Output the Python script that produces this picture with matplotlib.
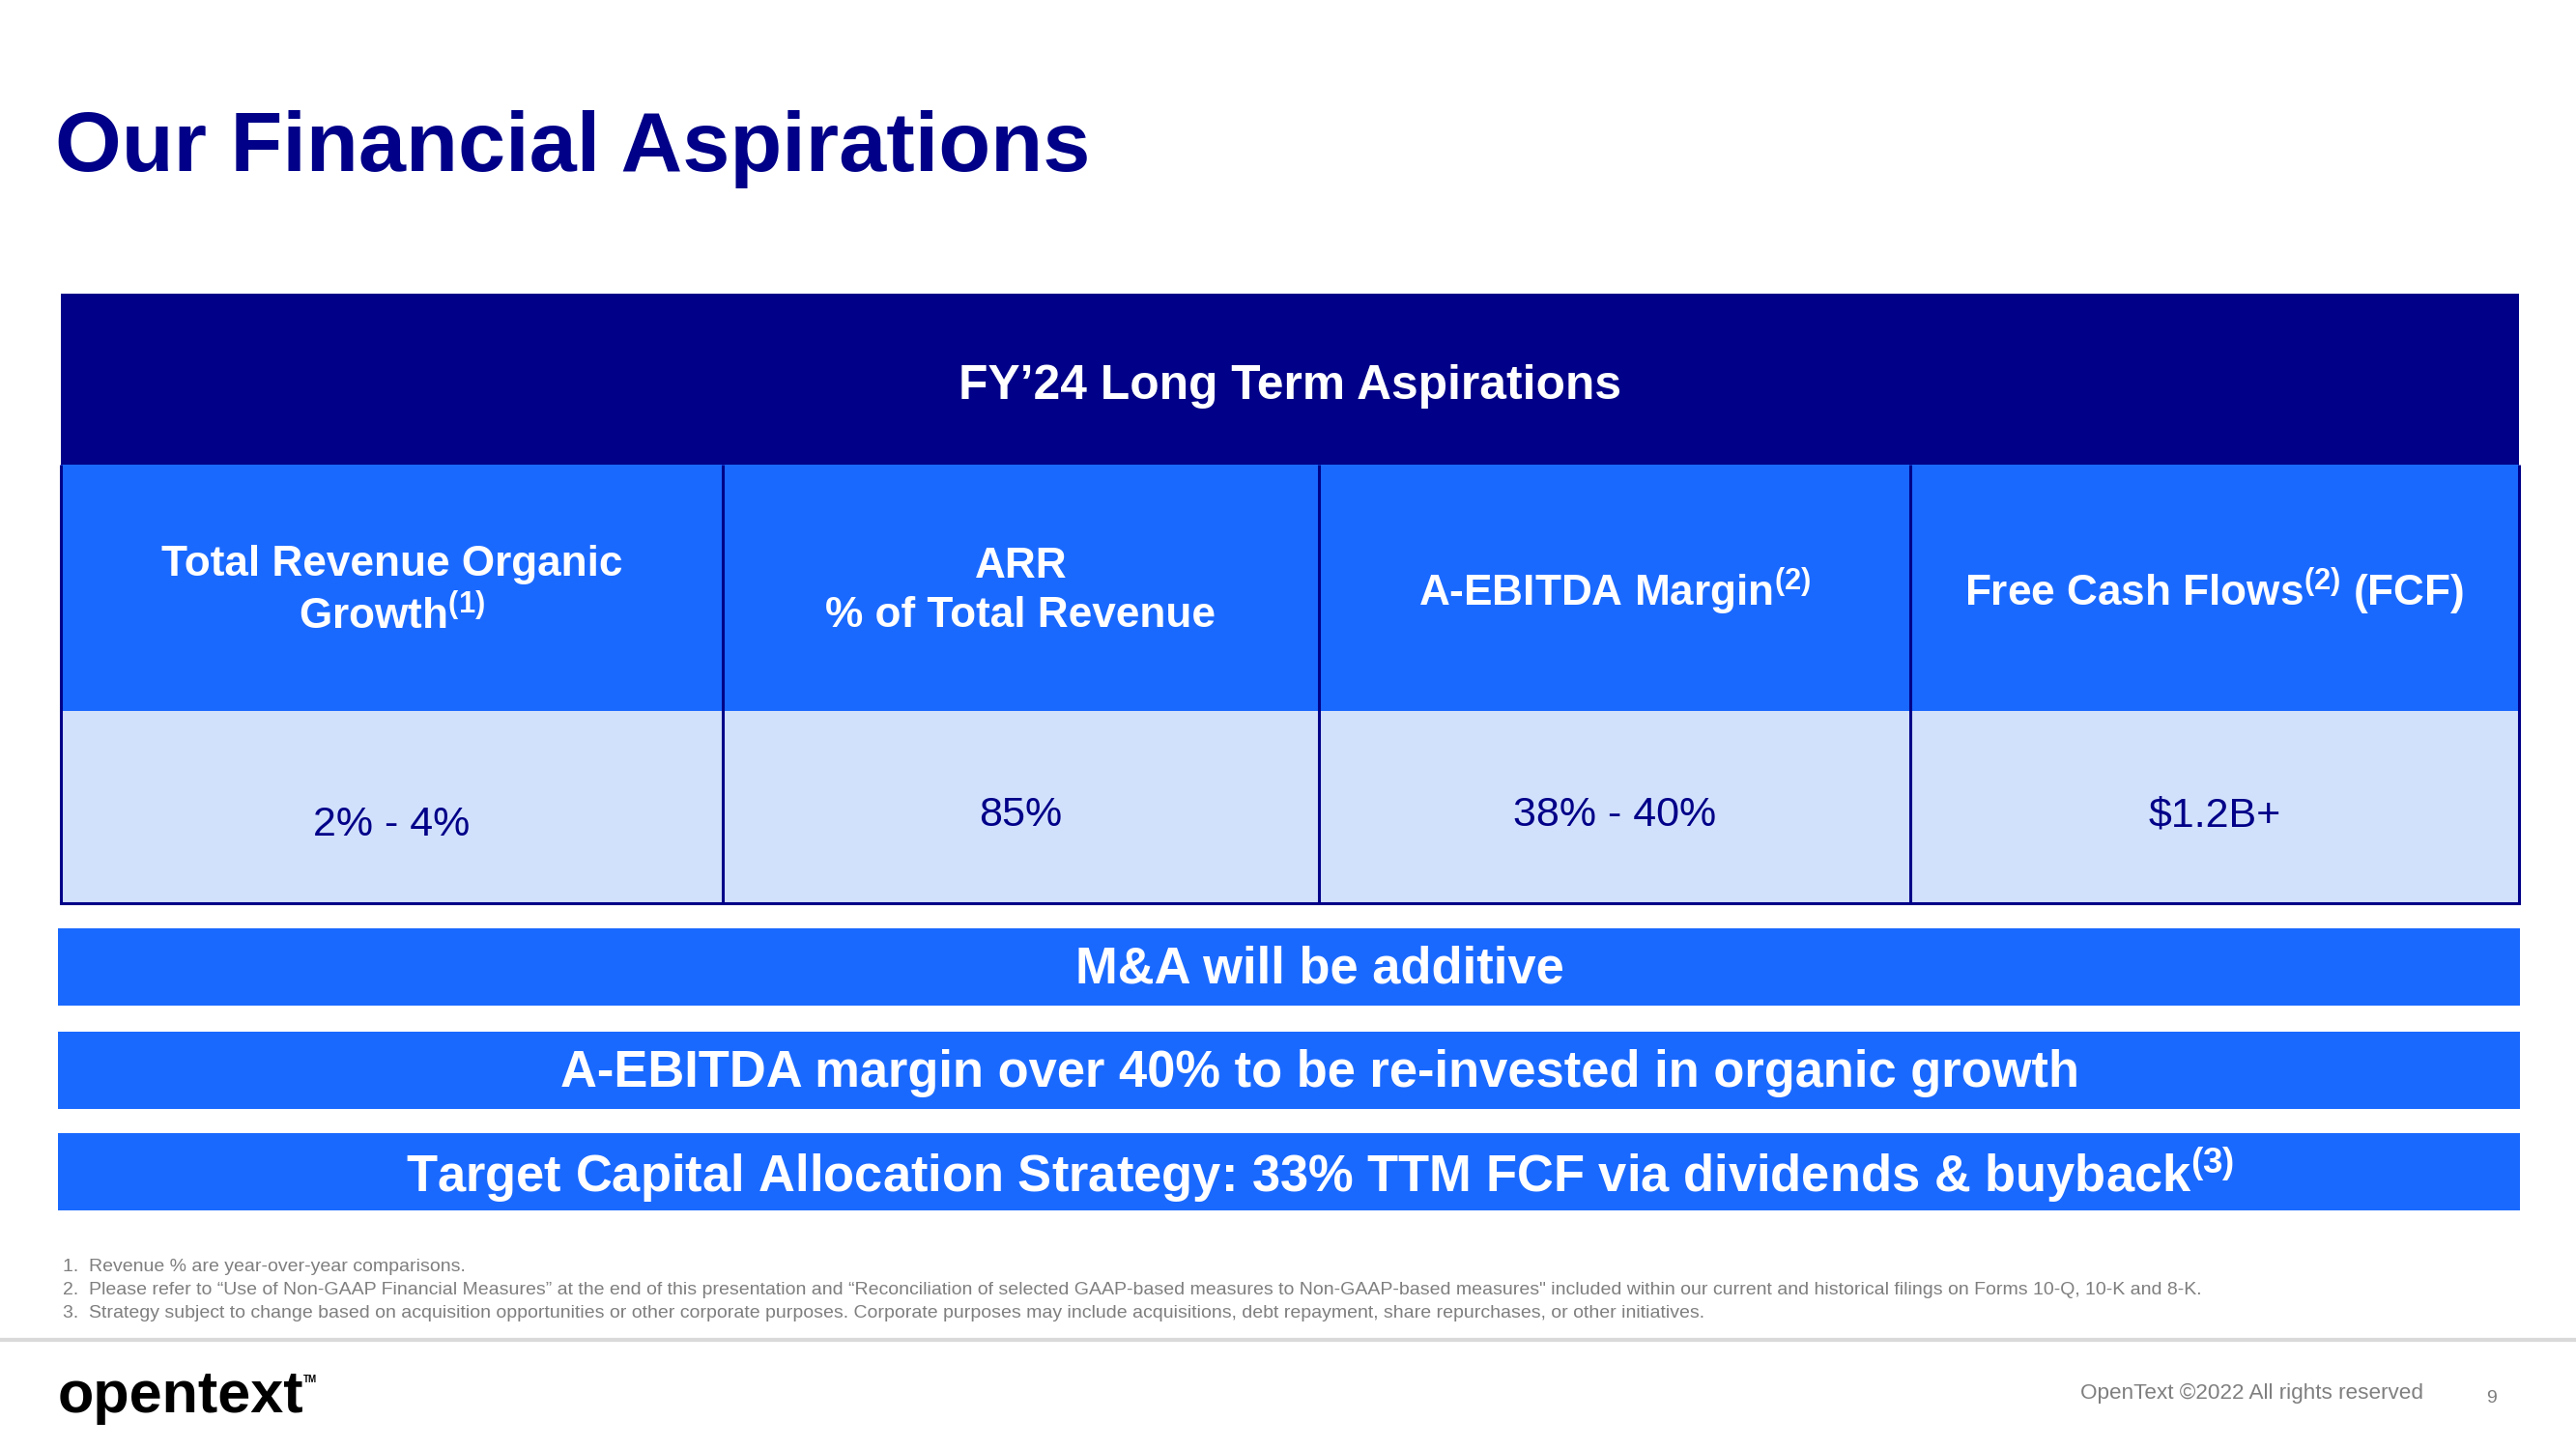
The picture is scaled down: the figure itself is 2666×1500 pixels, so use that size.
import matplotlib
matplotlib.use("Agg")
import matplotlib.pyplot as plt
from matplotlib.patches import Rectangle

plt.rcParams['font.family'] = ['Liberation Sans', 'DejaVu Sans']
plt.rcParams['mathtext.default'] = 'regular'

# slide content
title = "Our Financial Aspirations"
table_heading = "FY\u201924 Long Term Aspirations"
col_headers = [
    "Total Revenue Organic\nGrowth$^{(1)}$",
    "ARR\n% of Total Revenue",
    "A-EBITDA Margin$^{(2)}$",
    "Free Cash Flows$^{(2)}$ (FCF)",
]
col_values = ["2% - 4%", "85%", "38% - 40%", "$1.2B+"]
banners = [
    "M&A will be additive",
    "A-EBITDA margin over 40% to be re-invested in organic growth",
    "Target Capital Allocation Strategy: 33% TTM FCF via dividends & buyback$^{(3)}$",
]
footnotes = [
    "1.  Revenue % are year-over-year comparisons.",
    "2.  Please refer to \u201cUse of Non-GAAP Financial Measures\u201d at the end of this presentation and "
    "\u201cReconciliation of selected GAAP-based measures to Non-GAAP-based measures\" included within our "
    "current and historical filings on Forms 10-Q, 10-K and 8-K.",
    "3.  Strategy subject to change based on acquisition opportunities or other corporate purposes. "
    "Corporate purposes may include acquisitions, debt repayment, share repurchases, or other initiatives.",
]
copyright_text = "OpenText \u00a92022 All rights reserved"
page_no = "9"

NAVY = '#000088'
BRIGHT = '#1A69FF'
LIGHT = '#D2E1FB'
GRAY = '#7F7F7F'

W, H = 2666, 1500
fig = plt.figure(figsize=(W / 100, H / 100), dpi=100)
ax = fig.add_axes([0, 0, 1, 1])
ax.set_xlim(0, W)
ax.set_ylim(H, 0)
ax.axis('off')

# title
ax.text(57, 177, title, fontsize=63.5, fontweight='bold', color=NAVY,
        ha='left', va='baseline')

# table geometry (pixels)
left, right = 63, 2607
col_edges = [left, 748, 1365, 1977, right]
band_top, head_top, val_top, tbl_bot = 304, 481, 736, 935

ax.add_patch(Rectangle((left, band_top), right - left, head_top - band_top,
                       facecolor=NAVY, edgecolor='none'))
ax.text((left + right) / 2, 400, table_heading,
        fontsize=35.8, fontweight='bold', color='white', ha='center', va='center')

for i, (hdr, val) in enumerate(zip(col_headers, col_values)):
    x0, x1 = col_edges[i], col_edges[i + 1]
    ax.add_patch(Rectangle((x0, head_top), x1 - x0, val_top - head_top,
                           facecolor=BRIGHT, edgecolor='none'))
    ax.add_patch(Rectangle((x0, val_top), x1 - x0, tbl_bot - val_top,
                           facecolor=LIGHT, edgecolor='none'))
    ax.text((x0 + x1) / 2, 612, hdr, fontsize=31.8, fontweight='bold',
            color='white', ha='center', va='center', linespacing=1.3)
    vy = 854 if i == 0 else 844
    ax.text((x0 + x1) / 2, vy, val, fontsize=31, color=NAVY,
            ha='center', va='center')

# cell borders
for xe in col_edges:
    ax.plot([xe, xe], [head_top, tbl_bot], color=NAVY, lw=2.2,
            solid_capstyle='butt')
ax.plot([left, right], [tbl_bot, tbl_bot], color=NAVY, lw=2.2)

# banners
band_y = [961, 1068, 1173]
for txt, y0 in zip(banners, band_y):
    ax.add_patch(Rectangle((60, y0), 2548, 80, facecolor=BRIGHT, edgecolor='none'))
    ax.text(1366, y0 + 43, txt, fontsize=37.8, fontweight='bold', color='white',
            ha='center', va='center')

# footnotes
for k, note in enumerate(footnotes):
    ax.text(65, 1312 + 24 * k, note, fontsize=14, color=GRAY,
            ha='left', va='center')

# footer
ax.plot([0, W], [1387, 1387], color='#D9D9D9', lw=3)
ax.text(60, 1462, "opentext", fontsize=44, fontweight='bold', color='black',
        ha='left', va='baseline')
ax.text(314, 1431, "TM", fontsize=7, fontweight='bold', color='black',
        ha='left', va='baseline')
ax.text(2508, 1442, copyright_text, fontsize=16.2, color=GRAY,
        ha='right', va='center')
ax.text(2579, 1447, page_no, fontsize=14, color=GRAY, ha='center', va='center')

fig.savefig('out.png', dpi=100)
